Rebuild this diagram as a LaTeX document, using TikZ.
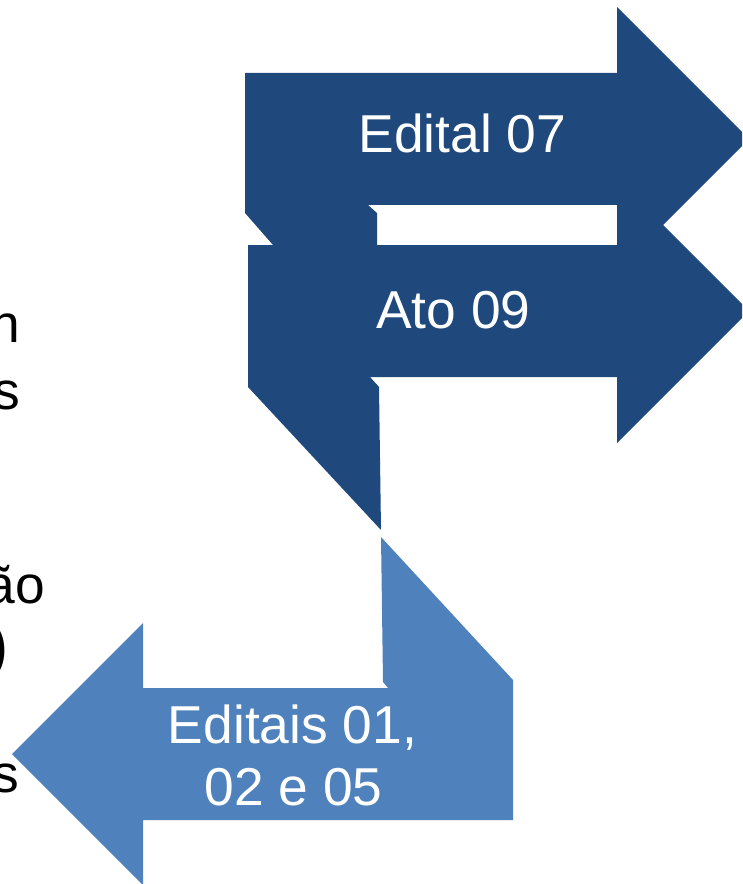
\documentclass[tikz,border=0pt]{standalone}
\usepackage{fontspec}
\setmainfont{Liberation Sans}
\definecolor{darkblue}{HTML}{1F497D}
\definecolor{lightblue}{HTML}{4F81BD}
\tikzset{
  darkshape/.style={fill=darkblue, draw=none, even odd rule},
  lightshape/.style={fill=lightblue, draw=none},
  lbl/.style={text=white, font=\fontsize{40}{48}\selectfont, inner sep=0pt, anchor=base},
  side/.style={text=black, font=\fontsize{40}{48}\selectfont, inner sep=0pt, anchor=base east},
}
\begin{document}
\begin{tikzpicture}[x=0.75pt,y=-0.75pt]
\useasboundingbox (0,0) rectangle (742,884);
\begin{scope}
\clip (0,0) rectangle (742,884);
% dark blue shapes (Edital 07 and Ato 09 with connecting column)
\path[darkshape]
  (245,73) -- (617,73) -- (617,7) -- (749,139) -- (663,225) -- (749,311)
  -- (617,443) -- (617,377) -- (370,377) -- (379,387) -- (381,530)
  -- (248,387) -- (248,245) -- (273,245) -- (245,213) -- cycle
  (368,205) -- (617,205) -- (617,245) -- (377,245) -- (377,213) -- cycle;
% light blue shape (Editais 01, 02 e 05)
\path[lightshape]
  (381,537) -- (513,680) -- (513,820) -- (143,820) -- (143,885) -- (12,754)
  -- (143,623) -- (143,688) -- (388,688) -- (383,682) -- cycle;
% labels
\node[lbl] (ed07) at (462.5,153) {Edital 07};
\node[lbl] (ato09) at (453.5,328) {Ato 09};
\node[lbl] (edA) at (292.5,743) {Editais 01,};
\node[lbl] (edB) at (293.5,805) {02 e 05};
% clipped text at the left edge
\node[side] (t1) at (20.5,342) {n};
\node[side] (t2) at (20,409) {s};
\node[side] (t3) at (45,603) {ão};
\node[side, font=\fontsize{48}{56}\selectfont] (t4) at (9,667) {)};
\node[side] (t5) at (19,792) {s};
\end{scope}
\end{tikzpicture}
\end{document}
